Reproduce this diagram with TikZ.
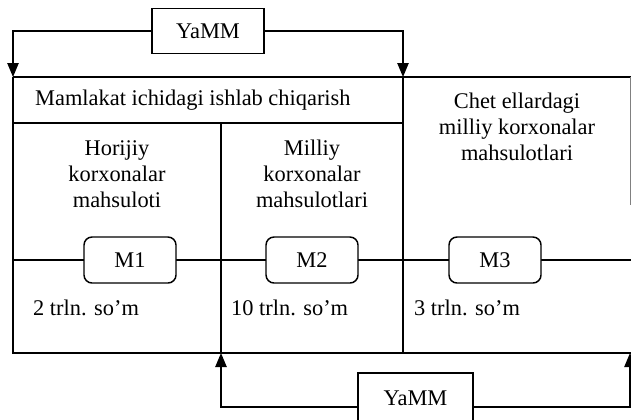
\documentclass[tikz,border=0pt]{standalone}
\usepackage{fontspec}
\setmainfont{Liberation Serif}
\usetikzlibrary{arrows.meta}

\begin{document}
\begin{tikzpicture}[x=0.75pt, y=-0.75pt, line width=1.1pt,
    font=\fontsize{16.8}{19.5}\selectfont,
    >={Triangle[width=8.5pt,length=10.5pt]}]
    \useasboundingbox (0,0) rectangle (631,419);
    \clip (0,0) rectangle (631,419);

    % Draw frame
    \draw (13,77) -- (631,77);
    \draw (13,77) -- (13,353) -- (631,353);
    \draw (13,123) -- (403,123);
    \draw (403,77) -- (403,353);
    \draw (221,123) -- (221,353);
    \draw (13,260) -- (631,260);
    \draw[line width=0.4pt, gray] (630,77) -- (630,205);

    % Draw nodes
    \node[draw, fill=white, minimum width=84pt, minimum height=34pt] (ytop) at (208,31) {YaMM};
    \node[draw, fill=white, inner sep=0pt, minimum width=86pt, text height=24pt, text depth=27pt] (ybot) at (415.5,407) {YaMM};
    \node[draw, fill=white, rounded corners=6pt, minimum width=69pt, minimum height=34.5pt] (m1) at (130,260) {M1};
    \node[draw, fill=white, rounded corners=6pt, minimum width=69pt, minimum height=34.5pt] (m2) at (312,260) {M2};
    \node[draw, fill=white, rounded corners=6pt, minimum width=69pt, minimum height=34.5pt] (m3) at (495,260) {M3};

    \coordinate (tl) at (13,77);
    \coordinate (tr) at (403,77);
    \coordinate (bl) at (221,353);
    \coordinate (br) at (630,353);

    % Labels
    \node[anchor=west] (ichki) at (30,100) {Mamlakat ichidagi ishlab chiqarish};
    \node[align=center] (horij) at (117,174) {Horijiy\\korxonalar\\mahsuloti};
    \node[align=center] (milliy) at (312,174) {Milliy\\korxonalar\\mahsulotlari};
    \node[align=center] (chet) at (517,127) {Chet ellardagi\\milliy korxonalar\\mahsulotlari};
    \node[anchor=west] (v1) at (28,308) {2 trln. so'm};
    \node[anchor=west] (v2) at (226,308) {10 trln. so'm};
    \node[anchor=west] (v3) at (409,308) {3 trln. so'm};

    % Draw connections
    \draw[->] (ytop.west) -| (tl);
    \draw[->] (ytop.east) -| (tr);
    \draw[->] (ybot.west) -| (bl);
    \draw[->] (ybot.east) -| (br);
\end{tikzpicture}
\end{document}
